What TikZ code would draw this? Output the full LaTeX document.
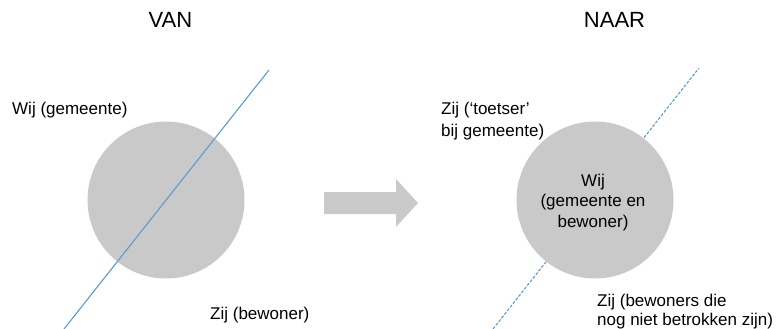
\documentclass[tikz,border=0pt]{standalone}
\usepackage{fontspec}
\setmainfont{Liberation Sans}
\begin{document}
\begin{tikzpicture}[x=1pt,y=-1pt,
  lbl/.style={inner sep=0pt,font=\fontsize{17}{21.5}\selectfont},
  ttl/.style={inner sep=0pt,font=\fontsize{22}{26}\selectfont},
  disc/.style={circle,fill=discgray,minimum size=157pt,inner sep=0pt},
  divide/.style={draw=lineblue,line width=1.1pt},
  dividedash/.style={divide,dash pattern=on 3pt off 1.6pt}]
\definecolor{discgray}{HTML}{C9C9C9}
\definecolor{lineblue}{HTML}{5B9BD5}
\useasboundingbox (0,0) rectangle (776,329);

% titles
\node[ttl,anchor=base] (van) at (170.5,28) {VAN};
\node[ttl,anchor=base] (naar) at (614.5,28) {NAAR};

% left situation: the line runs across the disc
\node[disc] (leftdisc) at (166,200) {};
\coordinate (la) at (64,329);
\coordinate (lb) at (269,70);
\draw[divide] (la) -- (lb);
\node[lbl,anchor=base west] (wijl) at (12,114.5) {Wij (gemeente)};
\node[lbl,anchor=base west] (zijl) at (210,319.5) {Zij (bewoner)};

% transition arrow
\fill[discgray] (324,192) -- (396,192) -- (396,179) -- (418,203)
  -- (396,227) -- (396,214) -- (324,214) -- cycle;

% right situation: the dashed line passes behind the disc
\coordinate (ra) at (493,329);
\coordinate (rb) at (699,68);
\draw[dividedash] (ra) -- (rb);
\node[disc] (rightdisc) at (595,200) {};
\node[lbl,align=center,anchor=center,font=\fontsize{17}{20.5}\selectfont]
  (wijr) at (593,202.5) {Wij\\(gemeente en\\bewoner)};
\node[lbl,align=left,anchor=base west] (zijt) at (441,136)
  {Zij (‘toetser’\\bij gemeente)};
\node[lbl,align=left,anchor=base west,font=\fontsize{17}{19}\selectfont]
  (zijb) at (597,325.5) {Zij (bewoners die\\nog niet betrokken zijn)};
\end{tikzpicture}
\end{document}
